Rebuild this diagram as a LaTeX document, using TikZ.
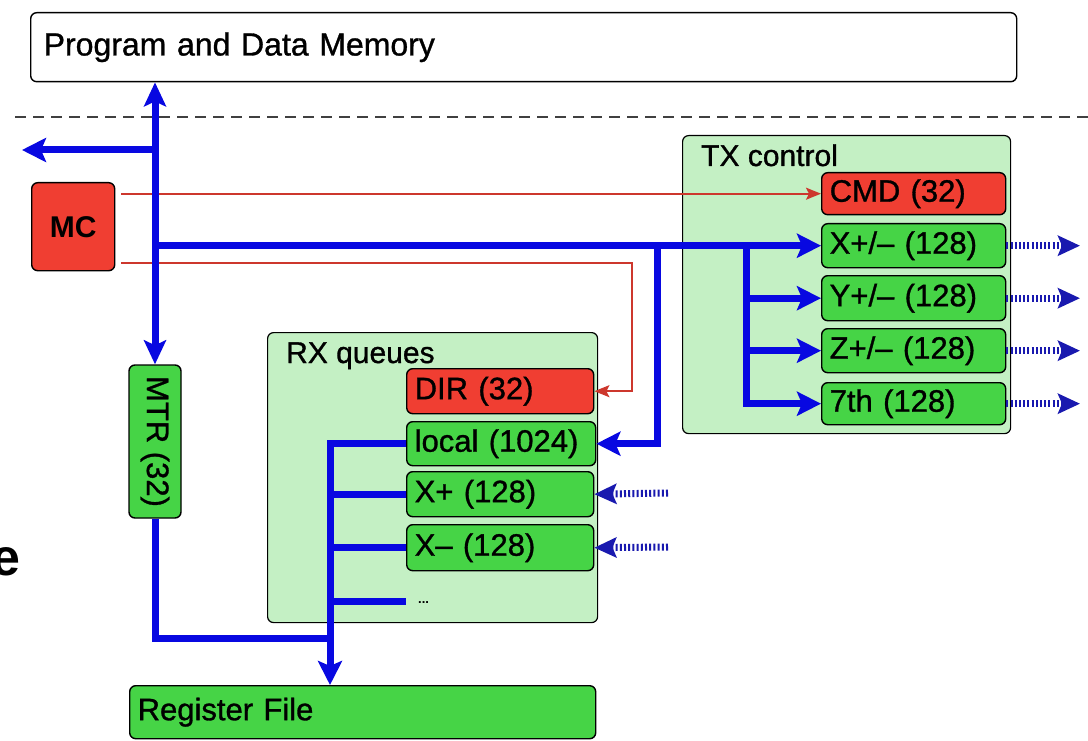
\documentclass[tikz,border=0pt]{standalone}
\usepackage{fontspec}
\setmainfont{Liberation Sans}
\newfontfamily\dfont{Liberation Sans}[FakeBold=1]
\usepackage{graphicx}
\usetikzlibrary{arrows.meta}
\definecolor{redfill}{RGB}{240,62,50}
\definecolor{grnfill}{RGB}{70,212,70}
\definecolor{grpfill}{RGB}{196,240,196}
\definecolor{busblue}{RGB}{8,8,225}
\definecolor{dotblue}{RGB}{25,25,175}
\definecolor{ctlred}{RGB}{205,55,45}
\begin{document}
\begin{tikzpicture}[x=1pt,y=-1pt,
  box/.style={draw=black, line width=1.4pt, rounded corners=6pt, inner ysep=0pt, inner xsep=8pt,
              anchor=north west, align=left, font=\dfont\fontsize{31}{33}\selectfont},
  membox/.style={box, fill=white, inner xsep=13pt, font=\dfont\fontsize{32}{34}\selectfont},
  redbox/.style={box, fill=redfill},
  grnbox/.style={box, fill=grnfill},
  grpbox/.style={draw=black, line width=1.2pt, rounded corners=6pt, fill=grpfill, anchor=north west, inner sep=0pt},
  grplabel/.style={anchor=base west, inner sep=0pt, font=\dfont\fontsize{30}{32}\selectfont},
  bus/.style={draw=busblue, line width=7pt},
  busarrow/.style={bus, -{Stealth[length=24pt,width=24pt,inset=5pt]}},
  busboth/.style={bus, {Stealth[length=24pt,width=22pt,inset=5pt]}-{Stealth[length=24pt,width=22pt,inset=5pt]}},
  ctl/.style={draw=ctlred, line width=1.8pt, -{Stealth[length=15pt,width=12pt,inset=3pt]}},
  dotbus/.style={draw=dotblue, line width=7pt, dash pattern=on 2pt off 2.2pt,
                 -{Stealth[length=22pt,width=20pt,inset=4pt]}},
  sep/.style={draw=black!75, line width=2pt, dash pattern=on 11pt off 7pt}
]
\useasboundingbox (0,0) rectangle (1088,741);
\fill[white] (0,0) rectangle (1088,741);

% stray letter cut at the left edge
\node[anchor=base east, inner sep=0pt, font=\fontsize{52}{54}\selectfont\bfseries] (stray) at (21,575) {e};

% memory and separator
\node[membox, minimum width=986pt, minimum height=69pt, text width=960pt] (mem) at (30,12) {Program and Data Memory};
\coordinate (sepl) at (15,117);
\coordinate (sepr) at (1088,117);
\draw[sep] (sepl) -- (sepr);

% group boxes
\node[grpbox, minimum width=328pt, minimum height=298pt] (tx) at (682,135) {};
\node[grplabel] (txlabel) at (701,166) {TX control};
\node[grpbox, minimum width=330pt, minimum height=290pt] (rx) at (267,332) {};
\node[grplabel] (rxlabel) at (286,363) {RX queues};

% MC
\node[redbox, minimum width=83pt, minimum height=88pt, align=center, inner xsep=0pt,
      font=\fontsize{30}{32}\selectfont\bfseries] (mc) at (31,182) {MC};

% TX queues
\node[redbox, minimum width=184pt, minimum height=42pt, text width=168pt] (cmd) at (821,172) {CMD (32)};
\node[grnbox, minimum width=184pt, minimum height=44pt, text width=168pt] (txx) at (821,223) {X+/– (128)};
\node[grnbox, minimum width=184pt, minimum height=45pt, text width=168pt] (txy) at (821,275) {Y+/– (128)};
\node[grnbox, minimum width=184pt, minimum height=44pt, text width=168pt] (txz) at (821,328) {Z+/– (128)};
\node[grnbox, minimum width=184pt, minimum height=42pt, text width=168pt] (tx7) at (821,382) {7th (128)};

% RX queues
\node[redbox, minimum width=187pt, minimum height=45pt, text width=171pt] (dir) at (406,368) {DIR (32)};
\node[grnbox, minimum width=189pt, minimum height=44pt, text width=173pt] (local) at (406,421) {local (1024)};
\node[grnbox, minimum width=187pt, minimum height=45pt, text width=171pt] (rxp) at (406,471) {X+ (128)};
\node[grnbox, minimum width=187pt, minimum height=46pt, text width=171pt] (rxm) at (406,524) {X– (128)};
\node[anchor=west, inner xsep=12pt, inner ysep=0pt, font=\fontsize{13}{14}\selectfont\bfseries] (dots) at (406,603) {...};

% MTR and register file
\node[grnbox, anchor=center, inner sep=0pt, minimum width=52pt, minimum height=153pt, align=center] (mtr) at (155,441.5) {\rotatebox{-90}{MTR (32)}};
\node[grnbox, minimum width=466pt, minimum height=53pt, text width=450pt, inner xsep=8pt] (rf) at (129,685) {Register File};

% helper coordinates
\coordinate (lout) at (22,150);
\coordinate (b1) at (746,245);
\coordinate (b2) at (657,245);
\coordinate (r2) at (632,263);
\coordinate (rxv) at (330,638);
\coordinate (oend) at (1080,0);
\coordinate (inp) at (668,493);
\coordinate (inm) at (668,547);
\coordinate (dotsb) at (406,601);

% red control lines (under the buses)
\draw[ctl] ([xshift=6pt]mc.east |- cmd.west) -- (cmd.west);
\draw[ctl] ([xshift=6pt]mc.east |- r2) -- (r2) |- (dir.east);

% blue buses
\draw[busboth] (mtr.north |- mem.south) -- (mtr.north);
\draw[busarrow] (mtr.north |- lout) -- (lout);
\draw[busarrow] (mtr.north |- txx.west) -- (txx.west);
\draw[busarrow] (b1) |- (tx7.west);
\draw[busarrow] (b1 |- txy.west) -- (txy.west);
\draw[busarrow] (b1 |- txz.west) -- (txz.west);
\draw[busarrow] (b2) |- (local.east);
\draw[bus] (mtr.south) |- (rxv);
\draw[busarrow] (local.west) -| (rxv |- rf.north);
\draw[bus] (rxv |- rxp.west) -- (rxp.west);
\draw[bus] (rxv |- rxm.west) -- (rxm.west);
\draw[bus] (rxv |- dotsb) -- (dotsb);

% link arrows
\draw[dotbus] (txx.east) -- (txx.east -| oend);
\draw[dotbus] (txy.east) -- (txy.east -| oend);
\draw[dotbus] (txz.east) -- (txz.east -| oend);
\draw[dotbus] (tx7.east) -- (tx7.east -| oend);
\draw[dotbus] (inp) -- (rxp.east);
\draw[dotbus] (inm) -- (rxm.east);
\end{tikzpicture}
\end{document}
